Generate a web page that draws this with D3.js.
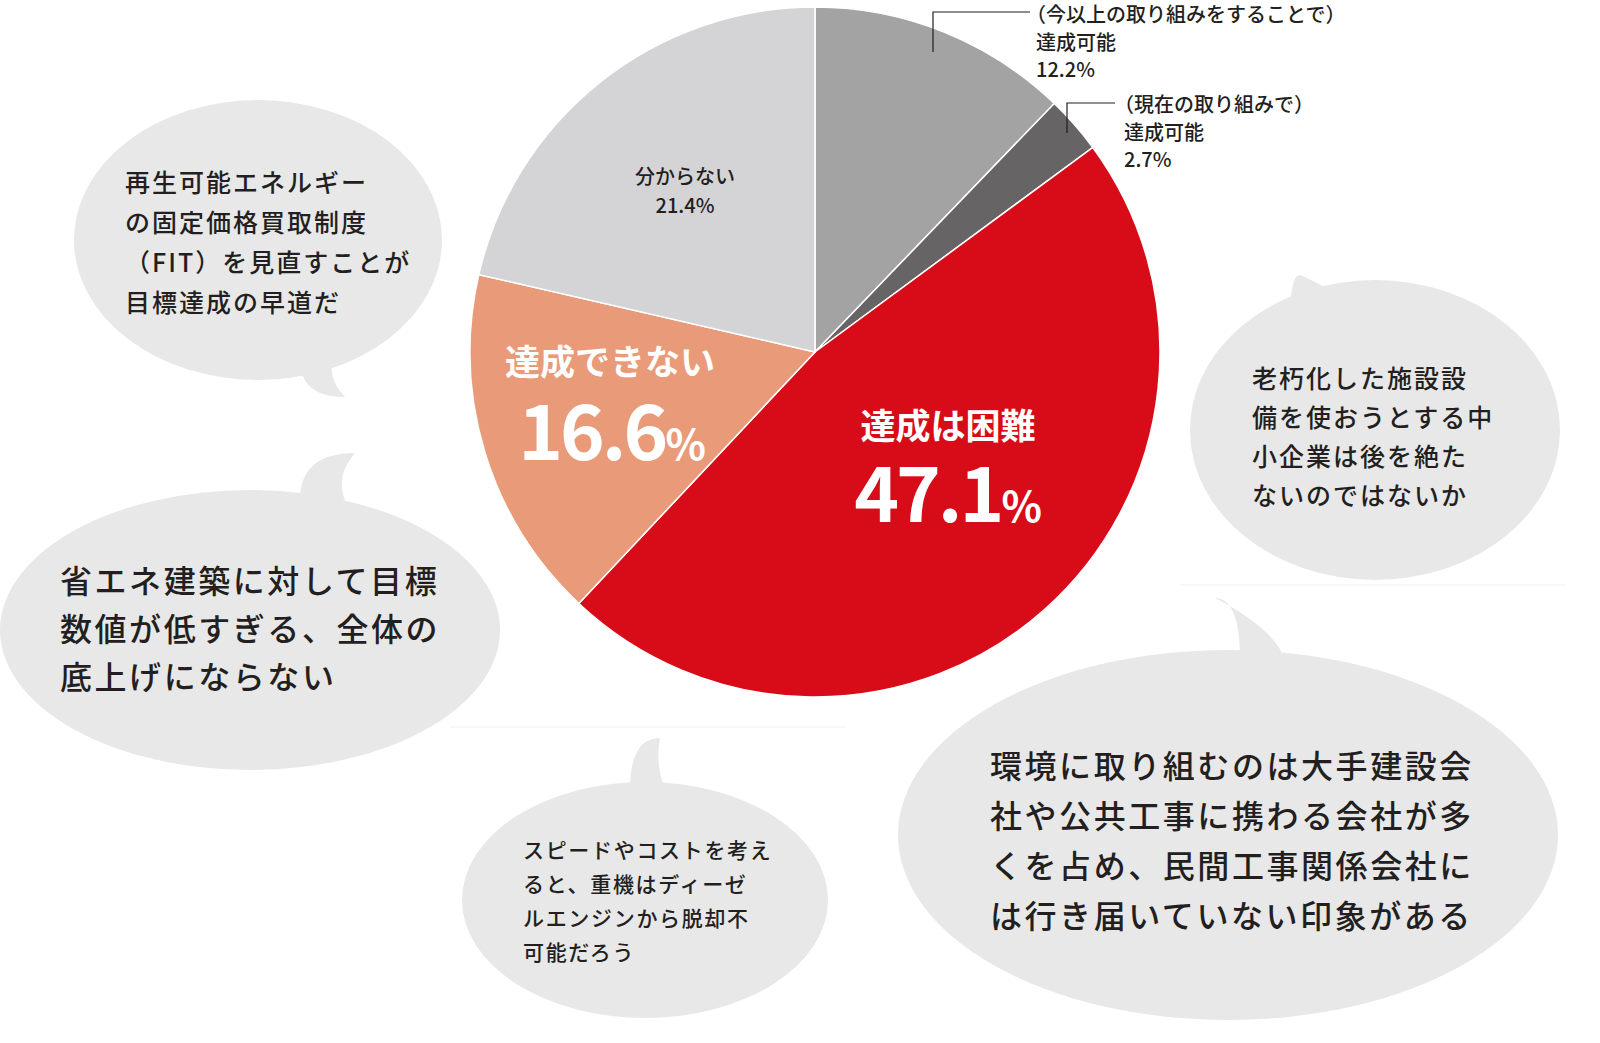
<!DOCTYPE html><html><head><meta charset="utf-8"><script src="https://cdn.jsdelivr.net/npm/d3@7"></script>
<style>body{margin:0;background:#fff}text{font-family:"Noto Sans CJK JP";}</style></head><body>
<svg id="c" width="1600" height="1043"></svg>
<script>
const categories=["(今以上の取り組みをすることで)達成可能","(現在の取り組みで)達成可能","達成は困難","達成できない","分からない"];
const values=[12.2,2.7,47.1,16.6,21.4];
const colors=["#a3a3a3","#666465","#d80c18","#e99a78","#d4d4d6"];
const svg=d3.select("#c");
svg.append("line").attr("x1",1180).attr("x2",1565).attr("y1",585).attr("y2",585).attr("stroke","#eee");
svg.append("line").attr("x1",450).attr("x2",845).attr("y1",727).attr("y2",727).attr("stroke","#eee");
const bub=[
 {cx:258,cy:240,rx:184,ry:140,tail:[[300,360],[345,397],[335,355]],lines:["再生可能エネルギー","の固定価格買取制度","（FIT）を見直すことが","目標達成の早道だ"],x:125,y:192,fs:25,lh:40},
 {cx:250,cy:630,rx:250,ry:140,tail:[[300,500],[355,453],[345,500]],lines:["省エネ建築に対して目標","数値が低すぎる、全体の","底上げにならない"],x:60,y:593,fs:32,lh:48},
 {cx:645,cy:900,rx:183,ry:118,tail:[[630,790],[660,738],[665,790]],lines:["スピードやコストを考え","ると、重機はディーゼ","ルエンジンから脱却不","可能だろう"],x:523,y:858,fs:21,lh:34},
 {cx:1228,cy:835,rx:330,ry:185,tail:[[1240,660],[1215,598],[1285,660]],lines:["環境に取り組むのは大手建設会","社や公共工事に携わる会社が多","くを占め、民間工事関係会社に","は行き届いていない印象がある"],x:990,y:778,fs:32,lh:50},
 {cx:1375,cy:430,rx:185,ry:150,tail:[[1290,320],[1300,275],[1340,300]],lines:["老朽化した施設設","備を使おうとする中","小企業は後を絶た","ないのではないか"],x:1252,y:388,fs:25,lh:39}
];
bub.forEach(b=>{
 svg.append("ellipse").attr("cx",b.cx).attr("cy",b.cy).attr("rx",b.rx).attr("ry",b.ry).attr("fill","#e8e8e8");
 svg.append("path").attr("d",`M${b.tail[0]}Q${b.tail[0][0]},${b.tail[1][1]} ${b.tail[1]}Q${b.tail[2][0]-10},${(b.tail[1][1]+b.tail[2][1])/2} ${b.tail[2]}Z`).attr("fill","#e8e8e8");
 const t=svg.append("text").attr("fill","#231f20").attr("font-size",b.fs).attr("font-weight",500).attr("letter-spacing",b.fs*0.08);
 b.lines.forEach((l,i)=>t.append("tspan").attr("x",b.x).attr("y",b.y+i*b.lh).text(l));
});
const cx=815,cy=352,R=345;
const pie=d3.pie().sort(null)(values);
const arc=d3.arc().innerRadius(0).outerRadius(R);
const g=svg.append("g").attr("transform",`translate(${cx},${cy})`);
g.selectAll("path").data(pie).join("path").attr("d",arc).attr("fill",(d,i)=>colors[i]).attr("stroke","#fff").attr("stroke-width",1.5);
function txt(x,y,s,fs,fw,fill,anchor){return svg.append("text").attr("x",x).attr("y",y).attr("font-size",fs).attr("font-weight",fw).attr("fill",fill).attr("text-anchor",anchor||"start").text(s);}
txt(685,184,"分からない",20,500,"#231f20","middle");
txt(685,213,values[4].toFixed(1)+"%",20,500,"#231f20","middle");
txt(610,375,"達成できない",35,700,"#fff","middle");
const p1=svg.append("text").attr("x",612).attr("y",460).attr("text-anchor","middle").attr("fill","#fff").attr("font-weight",700).attr("font-family","Roboto");
p1.append("tspan").attr("font-size",76).attr("letter-spacing",-3).text(values[3].toFixed(1));p1.append("tspan").attr("font-size",42).text("%");
txt(948,439,"達成は困難",35,700,"#fff","middle");
const p2=svg.append("text").attr("x",948).attr("y",522).attr("text-anchor","middle").attr("fill","#fff").attr("font-weight",700).attr("font-family","Roboto");
p2.append("tspan").attr("font-size",76).attr("letter-spacing",-3).text(values[2].toFixed(1));p2.append("tspan").attr("font-size",42).text("%");
svg.append("path").attr("d","M933,52V12H1030").attr("fill","none").attr("stroke","#231f20").attr("stroke-width",1.2);
svg.append("path").attr("d","M1067,133V103H1115").attr("fill","none").attr("stroke","#231f20").attr("stroke-width",1.2);
[["（今以上の取り組みをすることで）",1026,22],["達成可能",1036,50],[values[0]+"%",1036,77]].forEach(a=>txt(a[1],a[2],a[0],20,500,"#231f20"));
[["（現在の取り組みで）",1114,112],["達成可能",1124,140],[values[1]+"%",1124,167]].forEach(a=>txt(a[1],a[2],a[0],20,500,"#231f20"));
</script></body></html>
